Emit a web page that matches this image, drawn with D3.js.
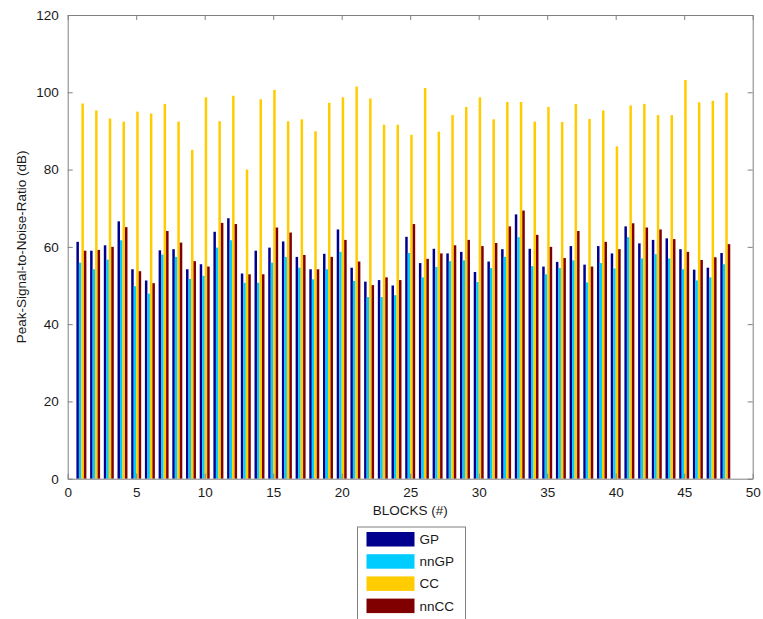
<!DOCTYPE html>
<html>
<head>
<meta charset="utf-8">
<script src="https://cdn.jsdelivr.net/npm/d3@7"></script>
<style>
  body { margin: 0; background: #fff; }
  text { font-family: "Liberation Sans", Arial, sans-serif; fill: #1a1a1a; }
  .axis path, .axis line { stroke: #808080; }
</style>
</head>
<body>
<div id="chart"></div>
<script>
var blocks = d3.range(1, 49);
var seriesNames = ["GP", "nnGP", "CC", "nnCC"];
var seriesColors = ["#00008f", "#00ccff", "#ffcc00", "#800000"];

var gp = [61.3, 59.0, 60.4, 66.6, 54.2, 51.3, 59.1, 59.4, 54.2, 55.5,
          63.9, 67.4, 53.1, 59.0, 59.8, 61.4, 57.4, 54.2, 58.2, 64.5,
          54.6, 51.0, 51.4, 50.0, 62.6, 55.8, 59.5, 58.3, 58.7, 53.5,
          56.2, 59.4, 68.4, 59.5, 54.9, 56.1, 60.2, 55.4, 60.2, 58.3,
          65.3, 60.9, 61.8, 62.2, 59.4, 54.1, 54.6, 58.4];
var nngp = [55.9, 54.2, 56.7, 61.7, 49.8, 47.9, 58.0, 57.4, 51.7, 52.5,
            59.8, 61.7, 50.7, 50.7, 55.9, 57.4, 54.6, 51.6, 54.2, 58.7,
            51.2, 47.0, 47.0, 47.5, 58.4, 52.1, 54.8, 56.3, 56.5, 50.9,
            54.5, 57.4, 62.5, 55.0, 52.9, 54.5, 56.5, 50.8, 55.8, 54.4,
            62.5, 57.0, 58.1, 57.0, 54.2, 51.3, 52.1, 55.5];
var cc = [97.1, 95.3, 93.2, 92.4, 95.0, 94.5, 97.0, 92.4, 85.1, 98.7,
          92.5, 99.1, 80.0, 98.2, 100.6, 92.5, 93.0, 89.9, 97.3, 98.7,
          101.5, 98.4, 91.6, 91.6, 89.0, 101.1, 89.8, 94.1, 96.2, 98.7,
          93.0, 97.5, 97.5, 92.4, 96.2, 92.3, 97.0, 93.1, 95.3, 86.0,
          96.6, 97.0, 94.1, 94.1, 103.2, 97.4, 97.8, 99.9];
var nncc = [59.0, 59.2, 60.0, 65.1, 53.7, 50.6, 64.1, 61.1, 56.3, 54.9,
            66.2, 65.9, 52.9, 52.9, 65.0, 63.7, 57.9, 54.2, 57.4, 61.8,
            56.2, 50.1, 52.1, 51.4, 65.9, 56.9, 58.3, 60.4, 61.8, 60.2,
            61.0, 65.3, 69.4, 63.1, 60.0, 57.1, 64.1, 54.9, 61.3, 59.4,
            66.1, 65.0, 64.5, 62.0, 58.7, 56.6, 57.3, 60.7];
var xTicks = [0, 5, 10, 15, 20, 25, 30, 35, 40, 45, 50];
var yTicks = [0, 20, 40, 60, 80, 100, 120];

var seriesValues = [gp, nngp, cc, nncc];

var margin = {top: 15, right: 10.3, bottom: 140.3, left: 67.7},
    width = 763 - margin.left - margin.right,
    height = 619 - margin.top - margin.bottom;

var svg = d3.select("#chart").append("svg")
    .attr("width", 763)
    .attr("height", 619)
  .append("g")
    .attr("transform", "translate(" + margin.left + "," + margin.top + ")");

var x = d3.scaleLinear().domain([0, 50]).range([0, width]);
var y = d3.scaleLinear().domain([0, 120]).range([height, 0]);

// MATLAB-style group: 4 bars side by side, group ~0.727 units wide
var groupW = 4 / 5.5;
var xs = d3.scaleBand().domain(seriesNames).range([-groupW / 2, groupW / 2]);
var barW = x(xs.bandwidth()) - x(0);

var data = [];
seriesNames.forEach(function(s, si) {
  blocks.forEach(function(b, i) {
    data.push({series: s, si: si, block: b, value: seriesValues[si][i]});
  });
});

svg.selectAll("rect.bar")
    .data(data)
  .enter().append("rect")
    .attr("class", "bar")
    .attr("x", function(d) { return x(d.block + xs(d.series)); })
    .attr("width", barW)
    .attr("y", function(d) { return y(d.value); })
    .attr("height", function(d) { return y(0) - y(d.value); })
    .attr("fill", function(d) { return seriesColors[d.si]; });

// axes with inward ticks, box on
svg.append("g")
    .attr("class", "axis")
    .attr("transform", "translate(0," + height + ")")
    .call(d3.axisBottom(x).tickValues(xTicks).tickSizeInner(-5).tickSizeOuter(0).tickPadding(9))
    .selectAll("text").style("font-size", "13.5px");

svg.append("g")
    .attr("class", "axis")
    .call(d3.axisLeft(y).tickValues(yTicks).tickSizeInner(-5).tickSizeOuter(0).tickPadding(9))
    .selectAll("text").style("font-size", "13.5px");

svg.append("g")
    .attr("class", "axis")
    .call(d3.axisTop(x).tickValues(xTicks).tickSizeInner(-5).tickSizeOuter(0).tickFormat(""));

svg.append("g")
    .attr("class", "axis")
    .attr("transform", "translate(" + width + ",0)")
    .call(d3.axisRight(y).tickValues(yTicks).tickSizeInner(-5).tickSizeOuter(0).tickFormat(""));

svg.selectAll(".axis .domain").attr("stroke", "#808080");

svg.append("text")
    .attr("x", width / 2)
    .attr("y", height + 36)
    .attr("text-anchor", "middle")
    .style("font-size", "13.5px")
    .text("BLOCKS (#)");

svg.append("text")
    .attr("transform", "rotate(-90)")
    .attr("x", -height / 2)
    .attr("y", -42)
    .attr("text-anchor", "middle")
    .style("font-size", "13.5px")
    .text("Peak-Signal-to-Noise-Ratio (dB)");

// legend
var legend = d3.select("svg").append("g")
    .attr("transform", "translate(357.5,527)");

legend.append("rect")
    .attr("width", 108)
    .attr("height", 100)
    .attr("fill", "#fff")
    .attr("stroke", "#808080");

var item = legend.selectAll("g.item")
    .data(seriesNames)
  .enter().append("g")
    .attr("class", "item")
    .attr("transform", function(d, i) { return "translate(9," + (5 + i * 22.2) + ")"; });

item.append("rect")
    .attr("width", 48)
    .attr("height", 14.5)
    .attr("fill", function(d, i) { return seriesColors[i]; });

item.append("text")
    .attr("x", 53)
    .attr("y", 12)
    .style("font-size", "13.5px")
    .text(function(d) { return d; });
</script>
</body>
</html>
